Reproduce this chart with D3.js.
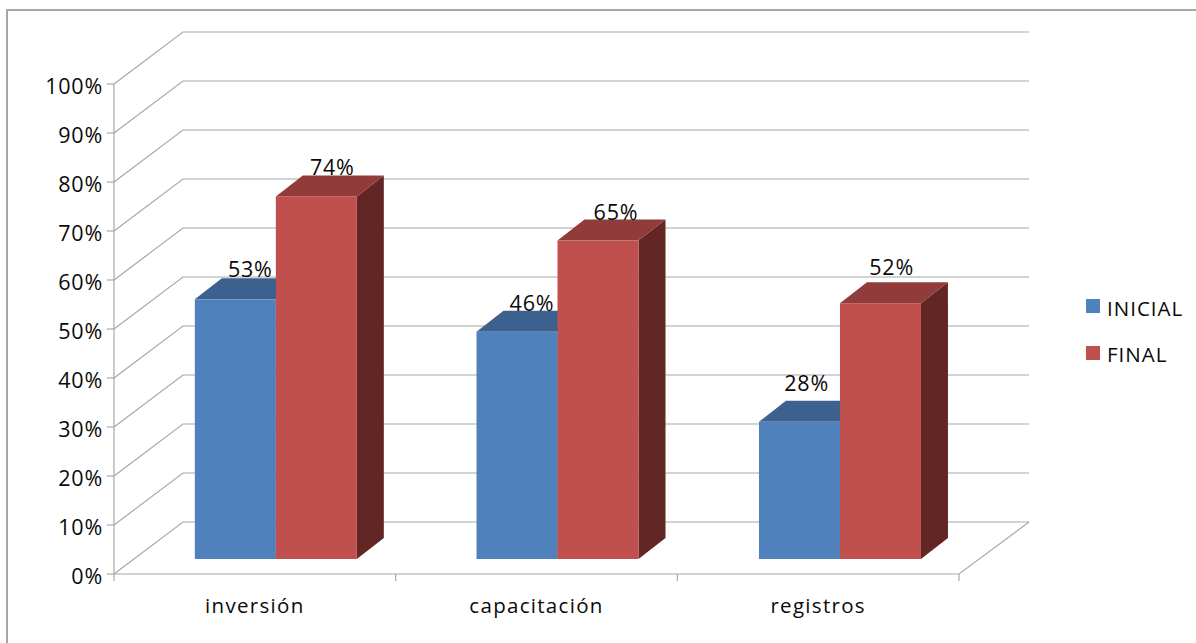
<!DOCTYPE html>
<html><head><meta charset="utf-8">
<script src="https://cdn.jsdelivr.net/npm/d3@7/dist/d3.min.js"></script>
<style>html,body{margin:0;padding:0;background:#fff}svg{display:block}text{font-family:"Open Sans",Lato,sans-serif;fill:#0a0a0a}</style>
</head><body><svg id="c" width="1196" height="643"></svg>
<script>
const categories = ["inversión","capacitación","registros"];
const seriesNames = ["INICIAL","FINAL"];
const inicial = [0.53,0.464,0.28];
const final_ = [0.74,0.65,0.522];
const tickValues = [0,0.1,0.2,0.3,0.4,0.5,0.6,0.7,0.8,0.9,1];
const labelNudgeX = [[15,16],[15,18],[8,12]];
const labelNudgeY = [[22,21],[21,21],[31,28]];
const groupNudge = [0,0,0.8];
const colors = {front:["#4f81bd","#c0504d"],top:["#3d618f","#913c3a"],side:["#2e4a6e","#622725"]};

const svg = d3.select("#c");
const depth = {x:69,y:-52}, barDepth = {x:27,y:-21}, barShift = {x:21,y:-15};
const x = d3.scaleBand().domain(categories).range([114,959]);
const y = d3.scaleLinear().domain([0,1]).range([574,84]);
const series = [inicial,final_];
const inner = d3.scaleBand().domain([0,1]).range([-81,81]);

svg.append("rect").attr("x",7).attr("y",10).attr("width",1300).attr("height",760).attr("fill","#fff").attr("stroke","#a6a6a6").attr("stroke-width",2);

const grid = svg.append("g").attr("stroke","#a8a8a8").attr("stroke-width",1.2).attr("fill","none");
tickValues.forEach(t=>{
  grid.append("path").attr("d",`M${x.range()[0]},${y(t)}L${x.range()[0]+depth.x},${y(t)+depth.y}L${x.range()[1]+depth.x+1},${y(t)+depth.y}`);
  grid.append("line").attr("x1",x.range()[0]-7).attr("x2",x.range()[0]).attr("y1",y(t)).attr("y2",y(t));
});
grid.append("line").attr("x1",114).attr("x2",114).attr("y1",y(0)).attr("y2",y(1));
grid.append("path").attr("d",`M114,${y(0)}L${x.range()[1]},${y(0)}L${x.range()[1]+depth.x+1},${y(0)+depth.y}`);
[0,1,2,3].forEach(i=>{
  const px = 114+i*x.step();
  grid.append("line").attr("x1",px).attr("x2",px).attr("y1",y(0)).attr("y2",y(0)+7);
});

const yAxisLabels = svg.append("g").attr("font-size",21.5).attr("text-anchor","end");
tickValues.forEach(t=>{
  yAxisLabels.append("text").attr("x",103).attr("y",y(t)+10).text(d3.format(".0%")(t)).style("letter-spacing","0.8px");
});
const catLabels = svg.append("g").attr("font-size",20.5).attr("text-anchor","middle");
categories.forEach(c=>{
  catLabels.append("text").attr("x",x(c)+x.bandwidth()/2).attr("y",613).text(c).style("letter-spacing","1.3px");
});

const bars = svg.append("g");
const base = y(0)+barShift.y;
const h = v => y(0)-y(v);
const drawOrder = [];
categories.forEach((c,ci)=>{ series.forEach((s,si)=>drawOrder.push({c,ci,si,v:s[ci]})); });
drawOrder.forEach(d=>{
  const cx = x(d.c)+x.bandwidth()/2+barShift.x+groupNudge[d.ci];
  const x0 = cx+inner(d.si), x1 = x0+inner.bandwidth();
  const top = base-h(d.v);
  const g = bars.append("g");
  g.append("path").attr("fill",colors.side[d.si]).attr("d",`M${x1},${top}L${x1+barDepth.x},${top+barDepth.y}L${x1+barDepth.x},${base+barDepth.y}L${x1},${base}Z`);
  g.append("path").attr("fill",colors.top[d.si]).attr("d",`M${x0},${top}L${x0+barDepth.x},${top+barDepth.y}L${x1+barDepth.x},${top+barDepth.y}L${x1},${top}Z`);
  g.append("rect").attr("fill",colors.front[d.si]).attr("x",x0).attr("y",top).attr("width",x1-x0).attr("height",base-top);
});
const valueLabels = svg.append("g").attr("font-size",21.5).attr("text-anchor","middle");
drawOrder.forEach(d=>{
  const cx = x(d.c)+x.bandwidth()/2+barShift.x;
  const x0 = cx+inner(d.si);
  const top = base-h(d.v);
  valueLabels.append("text").attr("x",x0+inner.bandwidth()/2+labelNudgeX[d.ci][d.si]).attr("y",top-labelNudgeY[d.ci][d.si]).text(d3.format(".0%")(d.v)).style("letter-spacing","0.8px");
});

const legend = svg.append("g");
seriesNames.forEach((n,i)=>{
  const ly = 307+i*47;
  legend.append("rect").attr("x",1086).attr("y",ly-8).attr("width",14).attr("height",14).attr("fill",colors.front[i]);
  legend.append("text").attr("x",1107).attr("y",ly+9-i).attr("font-size",20.5).style("letter-spacing","1px").text(n);
});
</script></body></html>
